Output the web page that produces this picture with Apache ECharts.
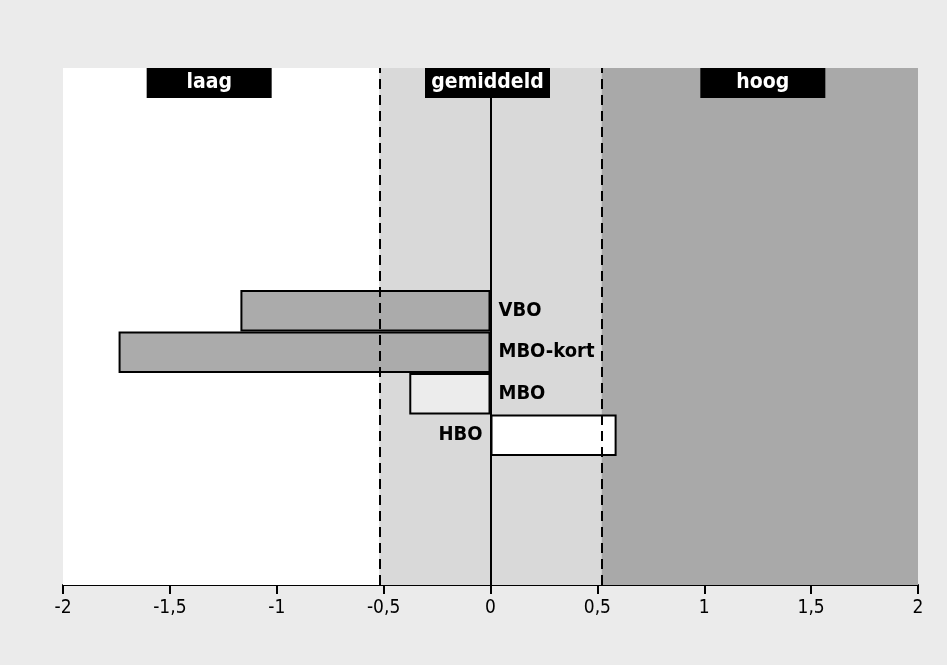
<!DOCTYPE html>
<html><head><meta charset="utf-8">
<script src="https://cdn.jsdelivr.net/npm/echarts@6/dist/echarts.min.js"></script>
<style>html,body{margin:0;padding:0;background:#ebebeb}#c{width:947px;height:665px}</style>
</head><body><div id="c"></div>
<script>
const categories = ['VBO', 'MBO-kort', 'MBO', 'HBO'];
const values = [-1.17, -1.74, -0.38, 0.59];
const zoneBounds = [-2, -0.52, 0.52, 2];
const zoneLabels = ['laag', 'gemiddeld', 'hoog'];
const xMin = -2, xMax = 2, xStep = 0.5;

const FONT = '"DejaVu Sans Condensed", "Liberation Sans Narrow", sans-serif';
const zoneColors = ['#ffffff', '#d9d9d9', '#a9a9a9'];
const zoneOffsets = [[-12, 0], [-3, 0], [3, 0]];
const barColors = {'VBO': '#ababab', 'MBO-kort': '#ababab', 'MBO': '#ececec', 'HBO': '#ffffff'};

const chart = echarts.init(document.getElementById('c'));
const areas = zoneLabels.map((name, i) => [
  {xAxis: zoneBounds[i], yAxis: 0, itemStyle: {color: zoneColors[i]},
   label: {show: true, formatter: name, position: 'insideTop', distance: 0, offset: zoneOffsets[i],
     backgroundColor: '#000', color: '#fff', width: 125, height: 30, lineHeight: 30, align: 'center',
     fontFamily: FONT, fontWeight: 'bold', fontSize: 21}},
  {xAxis: zoneBounds[i + 1], yAxis: 1}
]);
const dashLines = [zoneBounds[1], zoneBounds[2]].map(v => [
  {coord: [v, 0], lineStyle: {type: [10, 6], width: 2, color: '#000'}}, {coord: [v, 1]}
]);
const zeroLine = [{coord: [0, 0], lineStyle: {type: 'solid', width: 2, color: '#000'}}, {coord: [0, 0.944]}];

chart.setOption({
  backgroundColor: '#ebebeb',
  animation: false,
  grid: [
    {left: 63, right: 29, top: 68, bottom: 80},
    {left: 63, right: 29, top: 290, height: 166}
  ],
  xAxis: [
    {type: 'value', gridIndex: 0, min: xMin, max: xMax, interval: xStep,
     axisLine: {show: true, onZero: false, lineStyle: {color: '#000', width: 2}},
     axisTick: {show: true, length: 9, lineStyle: {color: '#000', width: 2}},
     splitLine: {show: false},
     axisLabel: {color: '#000', fontFamily: FONT, fontSize: 19, margin: 14,
       formatter: v => String(v).replace('.', ',')}},
    {type: 'value', gridIndex: 1, min: xMin, max: xMax, show: false}
  ],
  yAxis: [
    {type: 'value', gridIndex: 0, min: 0, max: 1, show: false},
    {type: 'category', gridIndex: 1, data: categories, inverse: true, show: false}
  ],
  series: [
    {type: 'scatter', xAxisIndex: 0, yAxisIndex: 0, data: [], z: 1, silent: true,
     markArea: {silent: true, data: areas}},
    {type: 'bar', xAxisIndex: 1, yAxisIndex: 1, z: 3, barWidth: '100%',
     data: values.map((v, i) => ({value: v,
       itemStyle: {color: barColors[categories[i]], borderColor: '#000', borderWidth: 2},
       label: {show: true, position: v < 0 ? 'right' : 'left', distance: 8, formatter: categories[i],
         color: '#000', fontFamily: FONT, fontWeight: 'bold', fontSize: 20}}))},
    {type: 'scatter', xAxisIndex: 0, yAxisIndex: 0, data: [], z: 5, silent: true,
     markLine: {silent: true, symbol: 'none', label: {show: false}, data: [...dashLines, zeroLine]}}
  ]
});
</script></body></html>
